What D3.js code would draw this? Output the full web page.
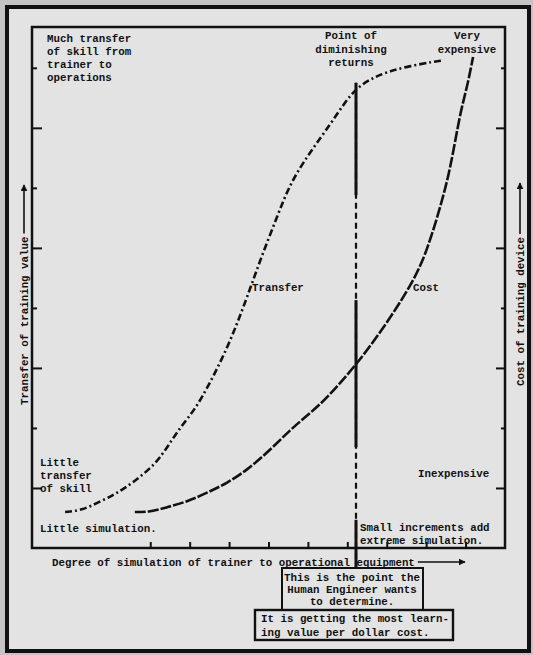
<!DOCTYPE html>
<html>
<head>
<meta charset="utf-8">
<script src="https://cdn.jsdelivr.net/npm/d3@7"></script>
<style>
  html, body { margin: 0; padding: 0; background: #c4c4c4; }
  svg { display: block; }
  text { font-family: "Liberation Mono", "DejaVu Sans Mono", monospace; font-weight: bold; font-size: 10.8px; fill: #111; }
</style>
</head>
<body>
<svg id="chart" width="533" height="655"></svg>
<script>
// degree of simulation (x) against transfer value / cost (y)
const transferX = [0.84, 1.27, 1.65, 2.06, 2.36, 2.74, 3.17, 3.43, 3.68, 3.96, 4.26, 4.95, 5.46, 5.79, 6.22, 6.55, 7.06, 7.56, 7.94, 8.25, 8.63, 9.09, 9.59, 10.18, 10.40];
const transferY = [0.60, 0.63, 0.75, 0.88, 1.00, 1.18, 1.43, 1.68, 1.93, 2.17, 2.43, 3.30, 4.18, 4.80, 5.52, 6.08, 6.60, 7.05, 7.43, 7.67, 7.83, 7.95, 8.03, 8.10, 8.12];

const costX = [2.61, 2.99, 3.43, 3.93, 4.44, 4.95, 5.46, 6.04, 6.55, 7.06, 7.49, 8.22, 8.83, 9.67, 10.03, 10.36, 10.61, 10.86, 11.04, 11.19];
const costY = [0.60, 0.60, 0.68, 0.77, 0.92, 1.08, 1.30, 1.63, 1.97, 2.25, 2.50, 3.05, 3.58, 4.42, 4.97, 5.68, 6.30, 7.25, 7.68, 8.18];

const xTicks = [3, 4, 5, 6, 7, 8, 9, 10, 11];
const yTicks = [1, 2, 3, 4, 5, 6, 7, 8];

// point of diminishing returns: x value, line top, solid stretches (y units)
const diminishingX = 8.22;
const diminishingTop = 7.75;
const diminishingBottom = -0.32;
const solidStretches = [[5.88, 7.75], [1.68, 4.13], [-0.32, 0.47]];

const xLabel = "Degree of simulation of trainer to operational equipment";
const leftLabel = "Transfer of training value";
const rightLabel = "Cost of training device";
const noteTopLeft = ["Much transfer", "of skill from", "trainer to", "operations"];
const notePoint = ["Point of", "diminishing", "returns"];
const noteExpensive = ["Very", "expensive"];
const noteLittleTransfer = ["Little", "transfer", "of skill"];
const noteLittleSim = "Little simulation.";
const noteInexpensive = "Inexpensive";
const noteSmall = ["Small increments add", "extreme simulation."];
const box1Lines = ["This is the point the", "Human Engineer wants", "to determine."];
const box2Lines = ["It is getting the most learn-", "ing value per dollar cost."];

const svg = d3.select("#chart");
const plot = { left: 32, right: 505, top: 27, bottom: 548 };
const paper = "#e3e3e3";

const x = d3.scaleLinear().domain([0, 12]).range([plot.left, plot.right]);
const y = d3.scaleLinear().domain([0, 8.68]).range([plot.bottom, plot.top]);

const defs = svg.append("defs");
defs.append("marker")
    .attr("id", "arrow")
    .attr("viewBox", "0 0 10 10")
    .attr("refX", 9).attr("refY", 5)
    .attr("markerWidth", 7).attr("markerHeight", 7)
    .attr("markerUnits", "userSpaceOnUse")
    .attr("orient", "auto")
  .append("path")
    .attr("d", "M0,0 L10,5 L0,10 z")
    .attr("fill", "#111");

// paper + outer frame
svg.append("rect")
    .attr("x", 7).attr("y", 7).attr("width", 522).attr("height", 644)
    .attr("fill", paper).attr("stroke", "#111").attr("stroke-width", 4);

// plot frame
svg.append("rect")
    .attr("x", plot.left).attr("y", plot.top)
    .attr("width", plot.right - plot.left).attr("height", plot.bottom - plot.top)
    .attr("fill", "none").attr("stroke", "#111").attr("stroke-width", 2.5);

// ticks, pointing inward
const gx = svg.append("g").attr("transform", `translate(0,${plot.bottom})`)
    .call(d3.axisBottom(x).tickValues(xTicks).tickSize(-6).tickFormat(""));
const gl = svg.append("g").attr("transform", `translate(${plot.left},0)`)
    .call(d3.axisLeft(y).tickValues(yTicks).tickFormat(""));
gl.selectAll(".tick line").attr("x2", d => d % 2 ? 10 : 5);
const gr = svg.append("g").attr("transform", `translate(${plot.right},0)`)
    .call(d3.axisRight(y).tickValues(yTicks).tickFormat(""));
gr.selectAll(".tick line").attr("x2", d => d % 2 ? -9 : -4);
[gx, gl, gr].forEach(g => {
  g.select(".domain").remove();
  g.selectAll(".tick line").attr("stroke", "#111").attr("stroke-width", 2);
});

// curves
const line = d3.line().x(d => x(d[0])).y(d => y(d[1])).curve(d3.curveBasis);

svg.append("path")
    .datum(d3.zip(transferX, transferY))
    .attr("d", line)
    .attr("fill", "none").attr("stroke", "#111").attr("stroke-width", 2.6)
    .attr("stroke-dasharray", "7 3 2 3");

svg.append("path")
    .datum(d3.zip(costX, costY))
    .attr("d", line)
    .attr("fill", "none").attr("stroke", "#111").attr("stroke-width", 2.6)
    .attr("stroke-dasharray", "11 2");

// diminishing returns marker line
svg.append("line")
    .attr("x1", x(diminishingX)).attr("x2", x(diminishingX))
    .attr("y1", y(diminishingTop)).attr("y2", y(diminishingBottom))
    .attr("stroke", "#111").attr("stroke-width", 2.2)
    .attr("stroke-dasharray", "6 4");
svg.selectAll(".solid-part")
  .data(solidStretches)
  .enter().append("line")
    .attr("class", "solid-part")
    .attr("x1", x(diminishingX)).attr("x2", x(diminishingX))
    .attr("y1", d => y(d[1])).attr("y2", d => y(d[0]))
    .attr("stroke", "#111").attr("stroke-width", 3);

// multi-line note helper
function note(lines, xPos, yPos, step, anchor) {
  const t = svg.append("text").attr("text-anchor", anchor || "start");
  lines.forEach((s, i) => {
    t.append("tspan").attr("x", xPos).attr("y", yPos + i * step).text(s);
  });
  return t;
}

note(noteTopLeft, 47, 42, 13);
note(notePoint, 351, 39, 13.5, "middle");
note(noteExpensive, 467, 39, 14, "middle");
note(noteLittleTransfer, 40, 466, 13);
note([noteLittleSim], 40, 532, 13);
note([noteInexpensive], 418, 477, 13);
note(noteSmall, 360, 531, 13);

svg.append("text").attr("x", 252).attr("y", 291).text("Transfer");
svg.append("text").attr("x", 413).attr("y", 291).text("Cost");

// axis titles with arrows
const xt = svg.append("text").attr("x", 52).attr("y", 566).text(xLabel);
const xtEnd = 52 + xt.node().getComputedTextLength();
svg.append("line")
    .attr("x1", xtEnd + 3).attr("x2", 465).attr("y1", 562).attr("y2", 562)
    .attr("stroke", "#111").attr("stroke-width", 1.6).attr("marker-end", "url(#arrow)");

function verticalTitle(label, xBase, yStart, yArrow) {
  const t = svg.append("text")
      .attr("transform", `translate(${xBase},${yStart}) rotate(-90)`)
      .text(label);
  const len = t.node().getComputedTextLength();
  svg.append("line")
      .attr("x1", xBase - 4).attr("x2", xBase - 4)
      .attr("y1", yStart - len - 3).attr("y2", yArrow)
      .attr("stroke", "#111").attr("stroke-width", 1.6).attr("marker-end", "url(#arrow)");
}
verticalTitle(leftLabel, 28, 405, 185);
verticalTitle(rightLabel, 524, 386, 183);

// boxed captions below the axis
svg.append("rect")
    .attr("x", 282).attr("y", 568).attr("width", 141).attr("height", 43)
    .attr("fill", paper).attr("stroke", "#111").attr("stroke-width", 2);
note(box1Lines, 352, 581, 12, "middle");

svg.append("rect")
    .attr("x", 255).attr("y", 610).attr("width", 198).attr("height", 30)
    .attr("fill", paper).attr("stroke", "#111").attr("stroke-width", 2.4);
note(box2Lines, 261, 622, 13.5);
</script>
</body>
</html>
